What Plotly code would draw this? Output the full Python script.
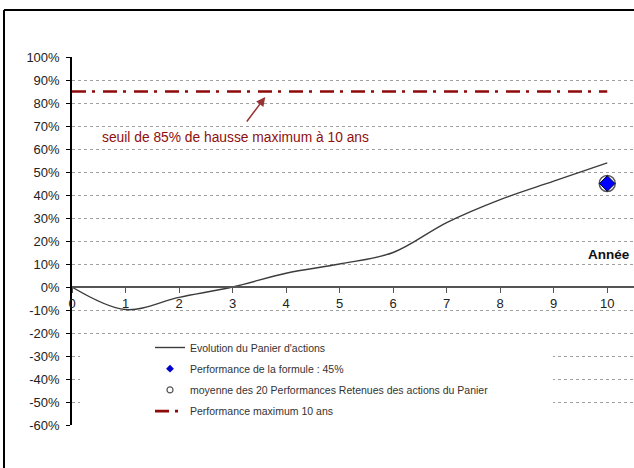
import plotly.graph_objects as go

# ---- data ----
years = [0, 1, 2, 3, 4, 5, 6, 7, 8, 9, 10]
panier = [0, -9.8, -4.5, 0, 6, 10, 15, 28, 38, 46, 54]
formule_x = [10]
formule_y = [45]
moyenne_x = [10]
moyenne_y = [45]
max_x = [0, 10]
max_y = [85, 85]
x_ticks = [0, 1, 2, 3, 4, 5, 6, 7, 8, 9, 10]
y_ticks = [100, 90, 80, 70, 60, 50, 40, 30, 20, 10, 0, -10, -20, -30, -40, -50, -60]

W, H = 634, 468
ML, MR, MT, MB = 72, 0, 57, 43
PW, PH = W - ML - MR, H - MT - MB

def px(xp):
    return (xp - ML) / PW

def py(yp):
    return (H - MB - yp) / PH

RED = "#8E0A0A"
FONT = "Liberation Sans, Arial, sans-serif"

fig = go.Figure()

# max line
fig.add_trace(go.Scatter(x=max_x, y=max_y, mode="lines",
                         line=dict(color=RED, width=2.6, dash="14px,6px,3px,8px"),
                         showlegend=False, hoverinfo="skip"))
# panier curve
fig.add_trace(go.Scatter(x=years, y=panier, mode="lines",
                         line=dict(color="#3c3c3c", width=1.4, shape="spline", smoothing=1.0),
                         showlegend=False))
# moyenne circle
fig.add_trace(go.Scatter(x=moyenne_x, y=moyenne_y, mode="markers",
                         marker=dict(symbol="circle", size=16, color="white",
                                     line=dict(color="#555555", width=1.5)),
                         showlegend=False))
# formule diamond
fig.add_trace(go.Scatter(x=formule_x, y=formule_y, mode="markers",
                         marker=dict(symbol="diamond", size=12, color="#0000FF",
                                     line=dict(color="#000033", width=1)),
                         showlegend=False))

# legend-only entries
fig.add_trace(go.Scatter(x=[None], y=[None], mode="lines", legendgroup="a",
                         line=dict(color="#3c3c3c", width=1.4),
                         name="Evolution du Panier d'actions"))
fig.add_trace(go.Scatter(x=[None], y=[None], mode="markers", legendgroup="b",
                         marker=dict(symbol="diamond", size=6, color="#0000CC"),
                         name="Performance de la formule : 45%"))
fig.add_trace(go.Scatter(x=[None], y=[None], mode="markers", legendgroup="c",
                         marker=dict(symbol="circle-open", size=6, color="#555555",
                                     line=dict(width=1.2)),
                         name="moyenne des 20 Performances Retenues des actions du Panier"))
fig.add_trace(go.Scatter(x=[None], y=[None], mode="lines", legendgroup="d",
                         line=dict(color=RED, width=2.6, dash="14px,6px,3px,8px"),
                         name="Performance maximum 10 ans"))

fig.update_layout(
    width=W, height=H,
    margin=dict(l=ML, r=MR, t=MT, b=MB, pad=0),
    paper_bgcolor="white", plot_bgcolor="white",
    font=dict(family=FONT, color="#222222"),
    showlegend=True,
    legend=dict(x=px(150), y=py(333), xanchor="left", yanchor="top",
                bgcolor="rgba(0,0,0,0)", font=dict(size=10.5, color="#333333"),
                tracegroupgap=2.2, itemwidth=30),
    xaxis=dict(range=[0, 10.5], tickvals=x_ticks, ticktext=[str(v) for v in x_ticks],
               anchor="free", position=0.375, showgrid=False, zeroline=False,
               showline=True, linecolor="#555555", linewidth=1.5,
               ticks="outside", ticklen=5, tickcolor="#555555", tickwidth=1,
               tickfont=dict(size=13, color="#222222")),
    yaxis=dict(range=[-60, 100], tickvals=y_ticks,
               ticktext=[f"{v}%" for v in y_ticks],
               showgrid=True, gridcolor="#a0a0a0", gridwidth=1, griddash="dot",
               zeroline=False, showline=True, linecolor="black", linewidth=1.5,
               ticks="outside", ticklen=4, tickcolor="black", ticklabelstandoff=4,
               tickfont=dict(size=13, color="#222222")),
    shapes=[
        # legend white background hiding gridlines
        dict(type="rect", xref="paper", yref="paper", layer="above",
             x0=px(80), x1=px(553), y0=py(413), y1=py(339),
             fillcolor="white", line=dict(width=0)),
        # outer frame
        dict(type="line", xref="paper", yref="paper",
             x0=px(4), x1=px(640), y0=py(10), y1=py(10),
             line=dict(color="black", width=2)),
        dict(type="line", xref="paper", yref="paper",
             x0=px(4), x1=px(4), y0=py(10), y1=py(475),
             line=dict(color="black", width=2)),
    ],
    annotations=[
        dict(x=3.61, y=82.6, xref="x", yref="y", ax=3.245, ay=71.3,
             axref="x", ayref="y", text="", showarrow=True,
             arrowhead=2, arrowsize=1.2, arrowwidth=1.5, arrowcolor="#993333"),
        dict(x=px(100), y=64.8, xref="paper", yref="y", xanchor="left", yanchor="middle",
             text="seuil de 85% de hausse maximum à 10 ans", showarrow=False,
             font=dict(size=13.8, color="#8E1010", family=FONT)),
        dict(x=px(586), y=14.3, xref="paper", yref="y", xanchor="left", yanchor="middle",
             text="<b>Année</b>", showarrow=False,
             font=dict(size=13.5, color="#111111", family=FONT)),
    ],
)

fig.write_html("out.html")
